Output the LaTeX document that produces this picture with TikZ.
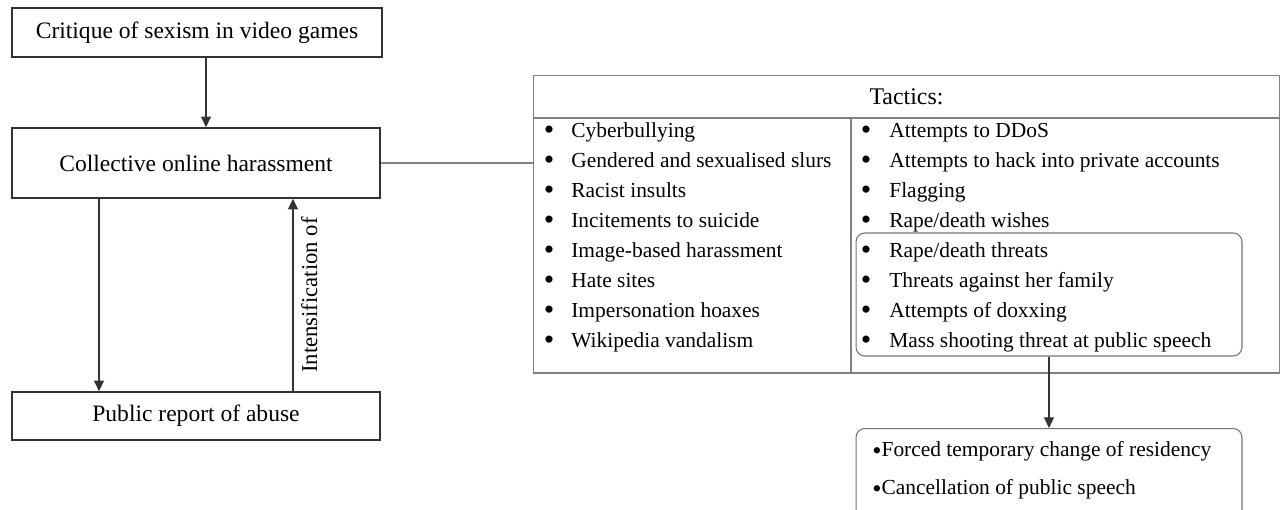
\documentclass[tikz,border=0pt]{standalone}
\usepackage{fontspec}
\setmainfont{Liberation Serif}
\usetikzlibrary{arrows.meta,positioning}

\begin{document}
\begin{tikzpicture}[
        x=0.02cm,
        y=-0.02cm,
        box/.style={draw=black!80, line width=0.9pt, minimum width=7.36cm, align=center, font=\fontsize{13.4}{16}\selectfont},
        rbox/.style={draw=black!55, line width=0.6pt, rounded corners=5pt, minimum width=7.72cm},
        rule/.style={draw=black!50, line width=0.6pt},
        item/.style={anchor=west, inner sep=0pt, text height=1.6ex, text depth=0.4ex, font=\fontsize{12.2}{14}\selectfont},
        bul/.style={inner sep=0pt, font=\fontsize{17}{18}\selectfont},
        arr/.style={-{Triangle[width=5.6pt,length=6pt]}, draw=black!80, line width=0.6pt}
    ]
        \clip (0,0) rectangle (1284,510);

        \node[box, minimum width=7.4cm, minimum height=0.98cm] (critique) at (197,32.5) {Critique of sexism in video games};
        \node[box, minimum height=1.4cm] (collective) at (196,163) {Collective online harassment};
        \node[box, minimum height=0.96cm] (report) at (196,416) {Public report of abuse};

        \draw[arr] ([xshift=0.18cm]critique.south) -- ([xshift=0.18cm]critique.south |- collective.north);
        \draw[arr] ([xshift=-1.94cm]collective.south) -- ([xshift=-1.94cm]collective.south |- report.north);
        \draw[arr] ([xshift=1.94cm]report.north) -- ([xshift=1.94cm]report.north |- collective.south)
            node[midway, sloped, below=1pt, font=\fontsize{12.9}{15}\selectfont] (intens) {Intensification of};

        \node[rule, minimum width=14.94cm, minimum height=5.96cm, inner sep=0pt] (tactics) at (906.5,224) {};
        \draw[rule] (collective.east) -- (collective.east -| tactics.west);
        \node[font=\fontsize{13.6}{16}\selectfont] (head) at (906.5,97) {Tactics:};
        \coordinate (hl) at (0,118);
        \coordinate (cd) at (851,0);
        \draw[rule] (tactics.west |- hl) -- (tactics.east |- hl);
        \draw[rule] (cd |- hl) -- (cd |- tactics.south);

        \foreach \t [count=\i from 0] in {Cyberbullying, Gendered and sexualised slurs, Racist insults,
            Incitements to suicide, Image-based harassment, Hate sites, Impersonation hoaxes, Wikipedia vandalism}{
            \node[bul] (lb\i) at (549,{133+30*\i}) {\textbullet};
            \node[item] (l\i) at (571,{133+30*\i}) {\t};
        }
        \foreach \t [count=\i from 0] in {Attempts to DDoS, Attempts to hack into private accounts, Flagging,
            Rape/death wishes, Rape/death threats, Threats against her family, Attempts of doxxing,
            Mass shooting threat at public speech}{
            \node[bul] (rb\i) at (866,{133+30*\i}) {\textbullet};
            \node[item] (r\i) at (889,{133+30*\i}) {\t};
        }

        \node[rbox, minimum height=2.46cm] (threats) at (1049,294.5) {};
        \node[rbox, minimum height=2.4cm, anchor=north] (effects) at (1049,428) {};
        \draw[arr] (threats.south) -- (threats.south |- effects.north);

        \node[item] (e1) at (872,452) {\raisebox{-0.25ex}{\fontsize{15}{16}\selectfont\textbullet}Forced temporary change of residency};
        \node[item] (e2) at (872,490) {\raisebox{-0.25ex}{\fontsize{15}{16}\selectfont\textbullet}Cancellation of public speech};
    \end{tikzpicture}
\end{document}
